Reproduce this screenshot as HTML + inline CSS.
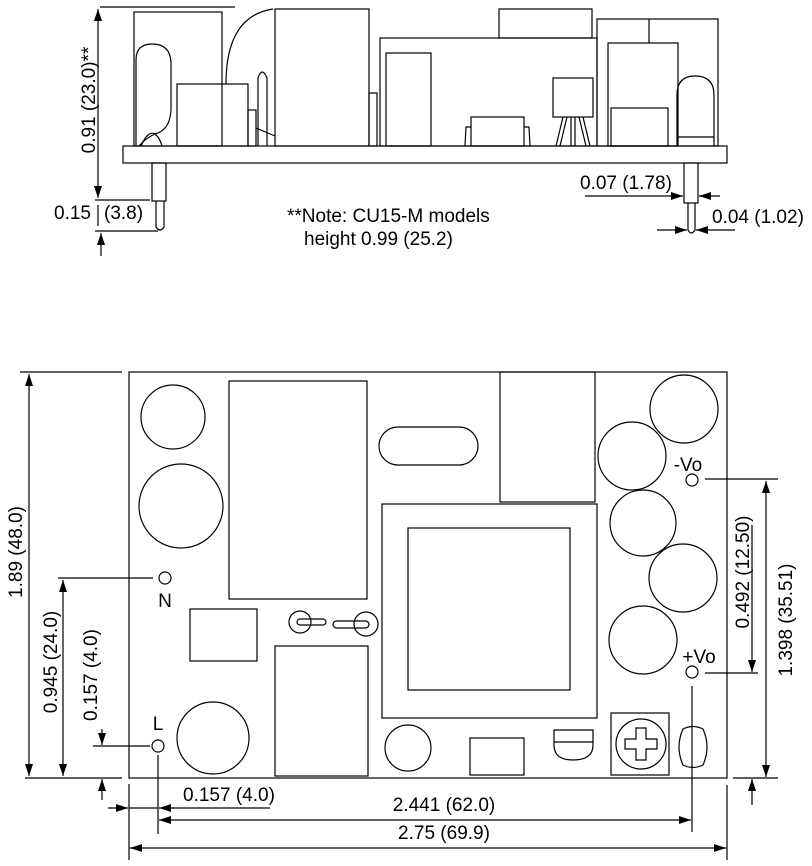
<!DOCTYPE html>
<html><head><meta charset="utf-8"><style>
html,body{margin:0;padding:0;background:#fff;}
svg{display:block;}
text{font-family:"Liberation Sans",Arial,sans-serif;font-size:19px;fill:#000;}
</style></head><body>
<svg width="812" height="866" viewBox="0 0 812 866" xmlns="http://www.w3.org/2000/svg">
<defs>
<marker id="a" markerWidth="12" markerHeight="8" refX="12" refY="4" orient="auto" markerUnits="userSpaceOnUse"><path d="M0,0 L12,4 L0,8 Z" fill="#000"/></marker>
</defs>
<g fill="none" stroke="#000" stroke-width="1.2">
<!-- ===== Side view ===== -->
<rect x="123" y="146" width="604" height="17"/>
<rect x="152" y="163" width="14" height="38"/>
<path d="M156,201 V227 Q160,233 164,227 V201"/>
<rect x="684" y="163" width="14" height="40"/>
<path d="M688,203 V230 Q691,236 695,230 V203"/>
<rect x="134" y="12" width="88" height="134"/>
<path d="M136,146 V60 Q136,44 152,44 Q170,44 171,62 V110 Q170,130 155,134 Q146,138 139,146"/>
<path d="M141,146 Q148,130 155,134 Q160,138 162,146"/>
<rect x="177" y="84" width="71" height="62"/>
<rect x="248" y="110" width="8" height="36"/>
<path d="M258,146 V78 Q262,66 267,78 V146"/>
<path d="M226,84 Q226,16 273,9"/>
<path d="M256,128 L275,136"/>
<rect x="275" y="9" width="94" height="137"/>
<rect x="369" y="93" width="8" height="53"/>
<rect x="380" y="38" width="217" height="108"/>
<rect x="386" y="53" width="45" height="93"/>
<rect x="499" y="9" width="93" height="29"/>
<rect x="597" y="19" width="121" height="127"/>
<line x1="649" y1="19" x2="649" y2="43"/>
<rect x="608" y="43" width="70" height="103"/>
<rect x="611" y="108" width="57" height="38"/>
<path d="M677,146 V95 Q677,76 695,76 Q714,76 714,95 V146"/>
<line x1="677" y1="137" x2="714" y2="137"/>
<rect x="553" y="78" width="40" height="39"/>
<path d="M563,117 L556,146 M567,117 L560,146 M571,117 L571,146 M575,117 L575,146 M579,117 L586,146 M583,117 L590,146"/>
<rect x="471" y="117" width="53" height="29"/>
<path d="M471,127 H466 L465,146 M524,127 H529 L530,146"/>
<!-- side dims -->
<line x1="100" y1="7" x2="235" y2="7"/>
<line x1="98" y1="100" x2="98" y2="9" marker-end="url(#a)"/>
<line x1="98" y1="100" x2="98" y2="198" marker-end="url(#a)"/>
<line x1="95" y1="200" x2="150" y2="200"/>
<line x1="98" y1="205" x2="98" y2="226"/>
<line x1="95" y1="231" x2="158" y2="231"/>
<line x1="101" y1="256" x2="101" y2="233" marker-end="url(#a)"/>
<line x1="585" y1="196" x2="683" y2="196" marker-end="url(#a)"/>
<line x1="720" y1="196" x2="699" y2="196" marker-end="url(#a)"/>
<line x1="657" y1="230" x2="687" y2="230" marker-end="url(#a)"/>
<line x1="735" y1="230" x2="696" y2="230" marker-end="url(#a)"/>

<!-- ===== Bottom view ===== -->
<rect x="129" y="372" width="598" height="406"/>
<circle cx="173" cy="417" r="32"/>
<circle cx="181" cy="506" r="42"/>
<rect x="229" y="381" width="138" height="218"/>
<circle cx="165" cy="578" r="6"/>
<rect x="190" y="609" width="67" height="52"/>
<circle cx="300" cy="622" r="11"/>
<circle cx="366" cy="624" r="12"/>
<rect x="297" y="619" width="29" height="6" rx="3"/>
<rect x="333" y="621" width="36" height="7" rx="3.5"/>
<rect x="275" y="646" width="93" height="130"/>
<circle cx="158" cy="746" r="6"/>
<circle cx="213" cy="738" r="36"/>
<rect x="379" y="427" width="99" height="38" rx="19"/>
<rect x="382" y="504" width="215" height="214"/>
<rect x="408" y="528" width="162" height="162"/>
<rect x="500" y="372" width="95" height="130"/>
<circle cx="408" cy="748" r="23"/>
<rect x="470" y="738" width="54" height="37"/>
<path d="M554,730 H593 V745 Q593,760 573,760 Q554,760 554,745 Z"/>
<line x1="554" y1="742" x2="593" y2="742"/>
<rect x="611" y="713" width="58" height="62"/>
<circle cx="641" cy="744" r="25"/>
<path d="M636,728 H646 V739 H657 V749 H646 V760 H636 V749 H625 V739 H636 Z"/>
<path d="M683,729 Q693,724 703,729 Q711,747 703,765 Q693,770 683,765 Q675,747 683,729 Z"/>
<circle cx="684" cy="409" r="34"/>
<circle cx="632" cy="456" r="34"/>
<circle cx="643" cy="523" r="33"/>
<circle cx="683" cy="578" r="34"/>
<circle cx="643" cy="640" r="34"/>
<circle cx="692" cy="480" r="6"/>
<circle cx="692" cy="672" r="6"/>
<!-- bottom dims -->
<line x1="20" y1="372" x2="122" y2="372"/>
<line x1="25" y1="778" x2="122" y2="778"/>
<line x1="29" y1="575" x2="29" y2="374" marker-end="url(#a)"/>
<line x1="29" y1="575" x2="29" y2="776" marker-end="url(#a)"/>
<line x1="58" y1="578" x2="153" y2="578"/>
<line x1="63" y1="680" x2="63" y2="580" marker-end="url(#a)"/>
<line x1="63" y1="680" x2="63" y2="776" marker-end="url(#a)"/>
<line x1="93" y1="746" x2="150" y2="746"/>
<line x1="102" y1="729" x2="102" y2="745" marker-end="url(#a)"/>
<line x1="102" y1="800" x2="102" y2="779" marker-end="url(#a)"/>
<line x1="129" y1="784" x2="129" y2="860"/>
<line x1="158" y1="755" x2="158" y2="834"/>
<line x1="692" y1="686" x2="692" y2="832"/>
<line x1="727" y1="785" x2="727" y2="860"/>
<line x1="108" y1="808" x2="128" y2="808" marker-end="url(#a)"/>
<line x1="270" y1="808" x2="159" y2="808" marker-end="url(#a)"/>
<line x1="129" y1="808" x2="158" y2="808"/>
<line x1="420" y1="820" x2="159" y2="820" marker-end="url(#a)"/>
<line x1="420" y1="820" x2="691" y2="820" marker-end="url(#a)"/>
<line x1="420" y1="848" x2="130" y2="848" marker-end="url(#a)"/>
<line x1="420" y1="848" x2="726" y2="848" marker-end="url(#a)"/>
<line x1="705" y1="479" x2="778" y2="479"/>
<line x1="705" y1="673" x2="758" y2="673"/>
<line x1="733" y1="778" x2="778" y2="778"/>
<line x1="766" y1="630" x2="766" y2="481" marker-end="url(#a)"/>
<line x1="766" y1="630" x2="766" y2="777" marker-end="url(#a)"/>
<line x1="752" y1="525" x2="752" y2="672" marker-end="url(#a)"/>
<line x1="752" y1="805" x2="752" y2="779" marker-end="url(#a)"/>
</g>
<text transform="translate(95,100) rotate(-90)" text-anchor="middle">0.91 (23.0)**</text>
<text x="54" y="219">0.15</text>
<text x="104" y="219">(3.8)</text>
<text x="287" y="222">**Note: CU15-M models</text>
<text x="304" y="245">height 0.99 (25.2)</text>
<text x="580" y="189">0.07 (1.78)</text>
<text x="712" y="223">0.04 (1.02)</text>
<text x="165" y="607" text-anchor="middle">N</text>
<text x="158" y="730" text-anchor="middle">L</text>
<text x="688" y="471" text-anchor="middle">-Vo</text>
<text x="699" y="663" text-anchor="middle">+Vo</text>
<text transform="translate(22,552) rotate(-90)" text-anchor="middle">1.89 (48.0)</text>
<text transform="translate(57,662) rotate(-90)" text-anchor="middle">0.945 (24.0)</text>
<text transform="translate(97,675) rotate(-90)" text-anchor="middle">0.157 (4.0)</text>
<text x="183" y="801">0.157 (4.0)</text>
<text x="444" y="811" text-anchor="middle">2.441 (62.0)</text>
<text x="444" y="839" text-anchor="middle">2.75 (69.9)</text>
<text transform="translate(749,572) rotate(-90)" text-anchor="middle">0.492 (12.50)</text>
<text transform="translate(792,620) rotate(-90)" text-anchor="middle">1.398 (35.51)</text>
</svg>
</body></html>
